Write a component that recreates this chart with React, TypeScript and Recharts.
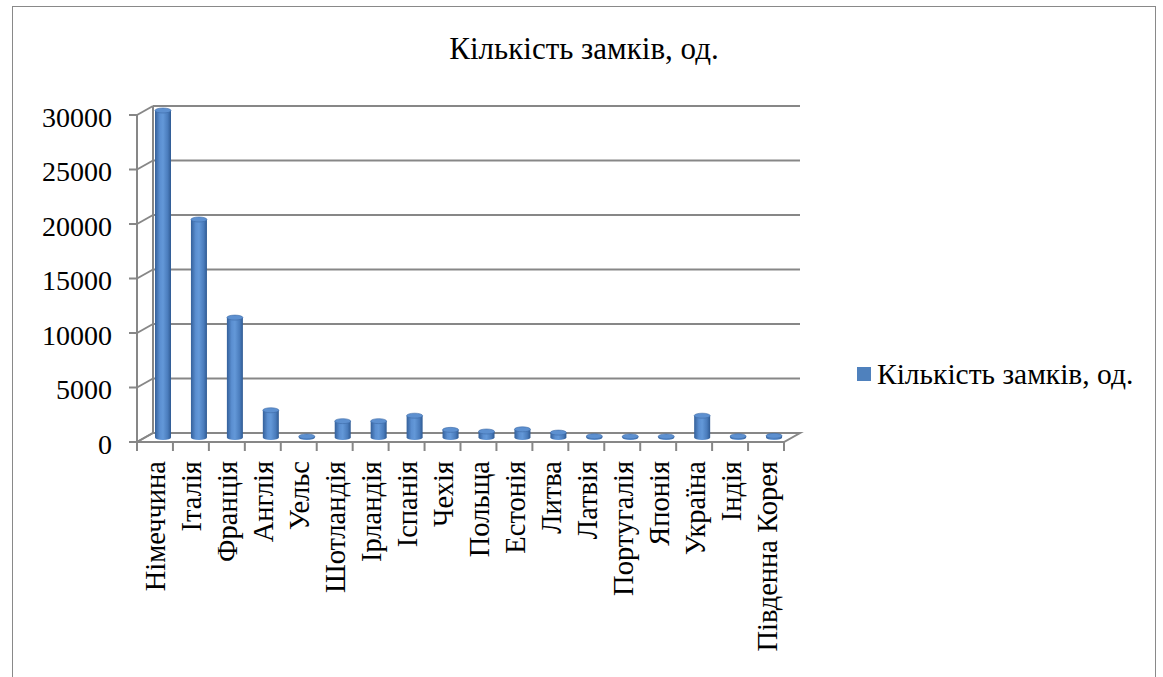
import { BarChart, Bar, XAxis, YAxis, CartesianGrid, Legend, Customized } from "recharts";

const countries = [
  "Німеччина",
  "Італія",
  "Франція",
  "Англія",
  "Уельс",
  "Шотландія",
  "Ірландія",
  "Іспанія",
  "Чехія",
  "Польща",
  "Естонія",
  "Литва",
  "Латвія",
  "Португалія",
  "Японія",
  "Україна",
  "Індія",
  "Південна Корея",
];
const castles = [30000, 20000, 11000, 2500, 100, 1500, 1500, 2000, 700, 550, 750, 450, 120, 100, 100, 2000, 120, 150];
const yTicks = [0, 5000, 10000, 15000, 20000, 25000, 30000];
const seriesName = "Кількість замків, од.";

const data = countries.map((name, i) => ({ name, castles: castles[i] }));

const W = 1163;
const H = 677;
const PLOT = { left: 153, top: 106, right: 800, bottom: 433 };
const DX = -16;
const DY = 9;
const FONT = "Liberation Serif, Times New Roman, serif";
const GRID = "#878787";
const BLUE = "#4f81bd";

function Cylinder(props: any) {
  const { x, y, width, height } = props;
  if (width == null || height == null) return null;
  const bx = x + DX / 2;
  const by = y + DY / 2;
  const rx = width / 2;
  const ry = 2.5;
  return (
    <g>
      <rect x={bx} y={by} width={width} height={Math.max(height, 0)} fill="url(#cyl)" />
      <ellipse cx={bx + rx} cy={by + height} rx={rx} ry={ry} fill="url(#cyl)" />
      <ellipse cx={bx + rx} cy={by} rx={rx} ry={ry} fill="#5d90d0" stroke="#3d6aa6" strokeWidth={0.6} />
    </g>
  );
}

function YTick({ x, y, payload }: any) {
  const fx = x + DX;
  const fy = y + DY;
  return (
    <g>
      <line x1={x} y1={y} x2={fx} y2={fy} stroke={GRID} strokeWidth={2} />
      <line x1={fx} y1={fy} x2={fx - 8} y2={fy} stroke={GRID} strokeWidth={2} />
      <text x={fx - 25} y={fy + 2} textAnchor="end" dominantBaseline="central" fontFamily={FONT} fontSize={28} fill="#000">
        {payload.value}
      </text>
    </g>
  );
}

function XTick({ x, y, payload }: any) {
  const tx = x - 15;
  const ty = y + 28;
  return (
    <text
      x={tx}
      y={ty}
      transform={`rotate(-90 ${tx} ${ty})`}
      textAnchor="end"
      dominantBaseline="central"
      fontFamily={FONT}
      fontSize={28.5}
      fill="#000"
    >
      {payload.value}
    </text>
  );
}

function Frame() {
  const band = (PLOT.right - PLOT.left) / countries.length;
  const fl = PLOT.left + DX;
  const fr = PLOT.right + DX;
  const fb = PLOT.bottom + DY;
  return (
    <g>
      <defs>
        <linearGradient id="cyl" x1="0" y1="0" x2="1" y2="0">
          <stop offset="0%" stopColor="#34609a" />
          <stop offset="30%" stopColor="#5b8fd1" />
          <stop offset="50%" stopColor="#6398d8" />
          <stop offset="80%" stopColor="#4a7cbc" />
          <stop offset="100%" stopColor="#2f5a92" />
        </linearGradient>
      </defs>
      <rect x={12.5} y={6.5} width={1143} height={H + 20} fill="none" stroke="#898989" strokeWidth={1} />
      <text x={584} y={58.5} textAnchor="middle" fontFamily={FONT} fontSize={31} fill="#000">
        {seriesName}
      </text>
      <line x1={PLOT.left} y1={PLOT.top} x2={PLOT.left} y2={PLOT.bottom} stroke={GRID} strokeWidth={2} />
      <line x1={fl} y1={PLOT.top + DY} x2={fl} y2={fb} stroke={GRID} strokeWidth={2} />
      <polygon
        points={`${PLOT.left},${PLOT.bottom} ${PLOT.right},${PLOT.bottom} ${fr},${fb} ${fl},${fb}`}
        fill="none"
        stroke={GRID}
        strokeWidth={2}
      />
      {Array.from({ length: countries.length + 1 }, (_, i) => (
        <line key={i} x1={fl + i * band} y1={fb} x2={fl + i * band} y2={fb + 9} stroke={GRID} strokeWidth={2} />
      ))}
    </g>
  );
}

function LegendBox() {
  return (
    <div style={{ display: "flex", alignItems: "center", fontFamily: FONT, fontSize: 29.5, color: "#000", whiteSpace: "nowrap", lineHeight: "32px" }}>
      <span style={{ display: "inline-block", width: 14, height: 14, background: BLUE, marginRight: 6 }} />
      {seriesName}
    </div>
  );
}

export default function App() {
  return (
    <div style={{ position: "absolute", left: 0, top: 0, width: W, height: H, background: "#fff" }}>
      <BarChart
        width={W}
        height={H}
        data={data}
        margin={{ top: PLOT.top, right: W - PLOT.right, bottom: 14, left: PLOT.left - 60 }}
        barSize={16}
      >
        <Customized component={<Frame />} />
        <CartesianGrid horizontal vertical={false} stroke={GRID} strokeWidth={2} strokeOpacity={1} />
        <YAxis
          width={60}
          domain={[0, 30000]}
          ticks={yTicks}
          interval={0}
          axisLine={false}
          tickLine={false}
          tickSize={0}
          tickMargin={0}
          tick={<YTick />}
        />
        <XAxis
          dataKey="name"
          height={H - PLOT.bottom - 14}
          interval={0}
          axisLine={false}
          tickLine={false}
          tickSize={0}
          tickMargin={0}
          tick={<XTick />}
        />
        <Legend
          layout="horizontal"
          align="center"
          verticalAlign="middle"
          wrapperStyle={{ left: 857, top: 358, width: 300 }}
          content={() => <LegendBox />}
        />
        <Bar dataKey="castles" name={seriesName} fill={BLUE} shape={<Cylinder />} isAnimationActive={false} />
      </BarChart>
    </div>
  );
}
